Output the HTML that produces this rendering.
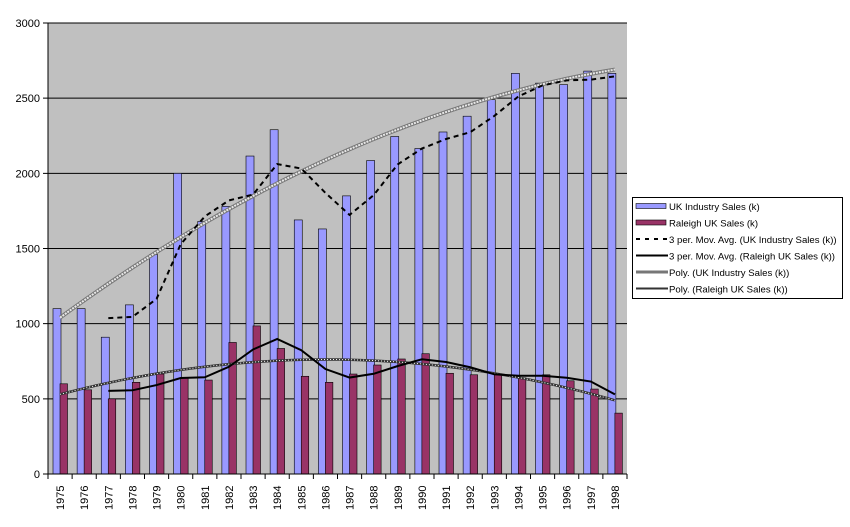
<!DOCTYPE html>
<html><head><meta charset="utf-8"><style>
body{margin:0;background:#fff;width:850px;height:522px;overflow:hidden;font-family:"Liberation Sans",sans-serif}
</style></head><body>
<svg id="s" width="850" height="522" xmlns="http://www.w3.org/2000/svg" font-family="Liberation Sans, sans-serif"></svg>
<script>
const uk=[1100,1100,910,1125,1460,2000,1680,1780,2115,2290,1690,1630,1850,2085,2245,2165,2275,2380,2490,2665,2600,2590,2680,2665];
const ra=[600,560,500,610,665,640,625,875,985,835,650,610,665,725,765,800,670,660,660,640,660,620,565,405];
const L=48,R=627,T=23,B=474,W=(R-L)/24;
const Y=v=>B-(v/3000)*(B-T);
let h='<rect x="'+L+'" y="'+T+'" width="'+(R-L)+'" height="'+(B-T)+'" fill="#c0c0c0"/>';
for(let v=0;v<=3000;v+=500){let y=Y(v);h+='<line x1="'+(L-5)+'" x2="'+R+'" y1="'+y+'" y2="'+y+'" stroke="#000" stroke-width="1"/>';
h+='<text x="'+(L-8)+'" y="'+(y+4)+'" font-size="11" text-anchor="end">'+v+'</text>';}
for(let i=0;i<24;i++){let x=L+i*W;
h+='<rect x="'+(x+5)+'" y="'+Y(uk[i])+'" width="8" height="'+(B-Y(uk[i]))+'" fill="#9999ff" stroke="#000" stroke-width="0.6"/>';
h+='<rect x="'+(x+12)+'" y="'+Y(ra[i])+'" width="7.5" height="'+(B-Y(ra[i]))+'" fill="#993366" stroke="#000" stroke-width="0.6"/>';
h+='<line x1="'+x+'" x2="'+x+'" y1="'+B+'" y2="'+(B+5)+'" stroke="#000"/>';
let cx=x+W/2;h+='<text transform="translate('+(cx+4)+',510) rotate(-90)" font-size="11">'+(1975+i)+'</text>';}
h+='<line x1="'+R+'" x2="'+R+'" y1="'+B+'" y2="'+(B+5)+'" stroke="#000"/>';
h+='<line x1="'+L+'" x2="'+L+'" y1="'+T+'" y2="'+B+'" stroke="#000"/><line x1="'+L+'" x2="'+R+'" y1="'+B+'" y2="'+B+'" stroke="#000"/>';
const cx=i=>L+W*(i+0.5);
function ma(a){let p=[];for(let i=2;i<24;i++)p.push(cx(i)+','+Y((a[i]+a[i-1]+a[i-2])/3));return p.join(' ');}
function poly(a,b,c){let p=[];for(let t=0;t<=23;t+=0.5)p.push(cx(t)+','+Y(a+b*t+c*t*t));return p.join(' ');}
let pu=poly(1040,116.9,-1.963),pr=poly(530,41.97,-1.9);
h+='<polyline points="'+pu+'" fill="none" stroke="#777" stroke-width="4"/><polyline points="'+pu+'" fill="none" stroke="#e8e8e8" stroke-width="2" stroke-dasharray="2 1"/>';
h+='<polyline points="'+pr+'" fill="none" stroke="#333" stroke-width="2.5"/><polyline points="'+pr+'" fill="none" stroke="#fff" stroke-width="1" stroke-dasharray="1 2"/>';
h+='<polyline points="'+ma(uk)+'" fill="none" stroke="#000" stroke-width="2" stroke-dasharray="5 4"/>';
h+='<polyline points="'+ma(ra)+'" fill="none" stroke="#000" stroke-width="2"/>';
// legend
h+='<rect x="632.5" y="197.5" width="210" height="101" fill="#fff" stroke="#000"/>';
const items=["UK Industry Sales (k)","Raleigh UK Sales (k)","3 per. Mov. Avg. (UK Industry Sales (k))","3 per. Mov. Avg. (Raleigh UK Sales (k))","Poly. (UK Industry Sales (k))","Poly. (Raleigh UK Sales (k))"];
items.forEach((t,k)=>{let y=206+k*16.5;
if(k==0)h+='<rect x="636" y="'+(y-2.5)+'" width="30" height="5" fill="#9999ff" stroke="#000" stroke-width="0.6"/>';
if(k==1)h+='<rect x="636" y="'+(y-2.5)+'" width="30" height="5" fill="#993366" stroke="#000" stroke-width="0.6"/>';
if(k==2)h+='<line x1="636" x2="668" y1="'+y+'" y2="'+y+'" stroke="#000" stroke-width="2" stroke-dasharray="4 5"/>';
if(k==3)h+='<line x1="636" x2="668" y1="'+y+'" y2="'+y+'" stroke="#000" stroke-width="2"/>';
if(k==4)h+='<line x1="636" x2="668" y1="'+y+'" y2="'+y+'" stroke="#777" stroke-width="3"/>';
if(k==5)h+='<line x1="636" x2="668" y1="'+y+'" y2="'+y+'" stroke="#333" stroke-width="2"/>';
h+='<text x="669" y="'+(y+4)+'" font-size="9.6">'+t+'</text>';});
document.getElementById('s').innerHTML=h;
</script>
</body></html>
